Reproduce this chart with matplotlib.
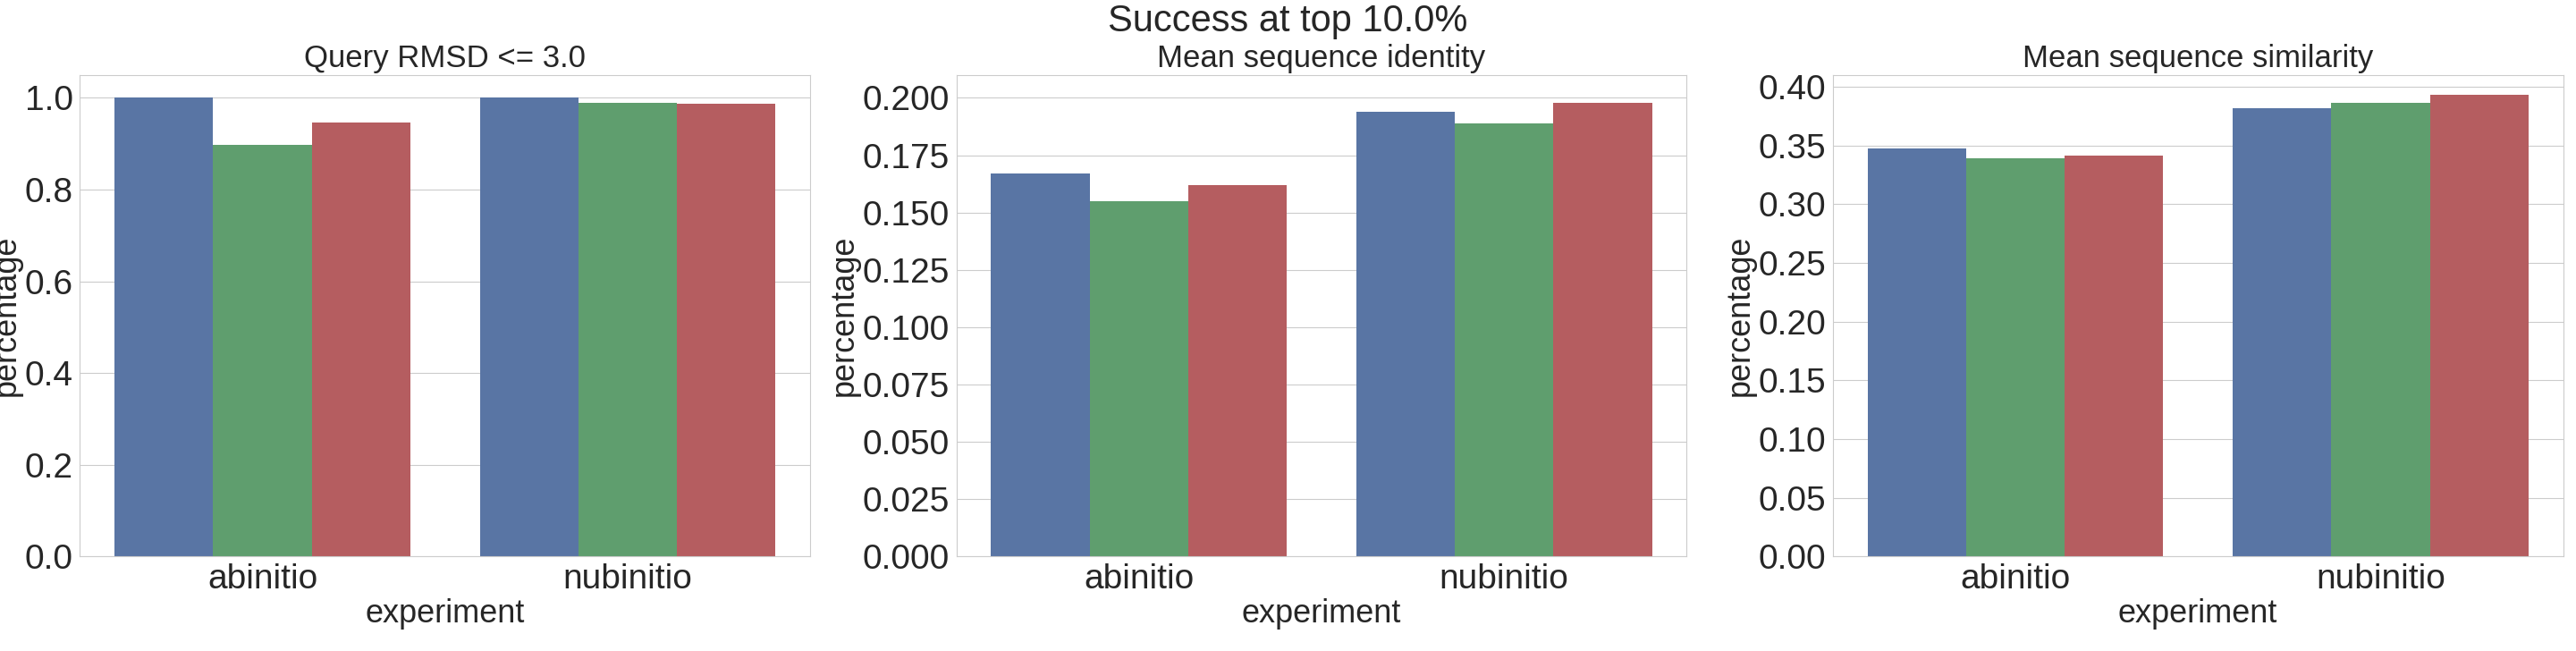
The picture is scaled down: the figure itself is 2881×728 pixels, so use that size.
import numpy as np
import matplotlib
matplotlib.use("Agg")
import matplotlib.pyplot as plt
import seaborn as sns

sns.set_style("whitegrid")
plt.rcParams['font.family'] = ['Arial', 'Liberation Sans', 'DejaVu Sans']

experiments = ['abinitio', 'nubinitio']
methods = ['wauto', 'picker', 'auto']
colors = ['#5975A4', '#5F9E6E', '#B55D60']
titles = ['Query RMSD <= 3.0', 'Mean sequence identity', 'Mean sequence similarity']

rmsd = [[1.0, 1.0], [0.898, 0.99], [0.947, 0.988]]
identity = [[0.167, 0.194], [0.155, 0.189], [0.162, 0.198]]
similarity = [[0.347, 0.382], [0.339, 0.386], [0.341, 0.393]]
panels = [rmsd, identity, similarity]

fig, axes = plt.subplots(1, 3, figsize=(28.81, 7.28), dpi=100)
fig.subplots_adjust(left=0.031, right=0.995, top=0.885, bottom=0.145, wspace=0.2)

x = np.arange(len(experiments))
w = 0.27
for ax, data, title in zip(axes, panels, titles):
    for i, (m, c) in enumerate(zip(methods, colors)):
        ax.bar(x + (i - 1) * w, data[i], w, color=c, label=m, edgecolor='none')
    ax.set_xticks(x)
    ax.set_xticklabels(experiments)
    ax.set_xlim(-0.5, 1.5)
    ax.set_title(title, fontsize=25)
    ax.set_xlabel('experiment', fontsize=26, labelpad=2)
    ax.set_ylabel('percentage', fontsize=26, labelpad=2)
    ax.tick_params(labelsize=28, pad=2)
    ax.grid(axis='x', visible=False)
    for s in ax.spines.values():
        s.set_color('#cccccc')

axes[0].set_ylim(0, 1.05)
axes[0].set_yticks(np.arange(0, 1.01, 0.2))
axes[1].set_ylim(0, 0.21)
axes[1].set_yticks(np.arange(0, 0.201, 0.025))
axes[1].set_yticklabels(['%.3f' % v for v in np.arange(0, 0.201, 0.025)])
axes[2].set_ylim(0, 0.41)
axes[2].set_yticks(np.arange(0, 0.401, 0.05))
axes[2].set_yticklabels(['%.2f' % v for v in np.arange(0, 0.401, 0.05)])

axes[1].legend(loc='upper center', bbox_to_anchor=(0.5, -0.17), ncol=3,
               fontsize=27, frameon=False, columnspacing=3.0, borderaxespad=0)
fig.suptitle('Success at top 10.0%', fontsize=30, y=0.995)
fig.savefig('out.png')
